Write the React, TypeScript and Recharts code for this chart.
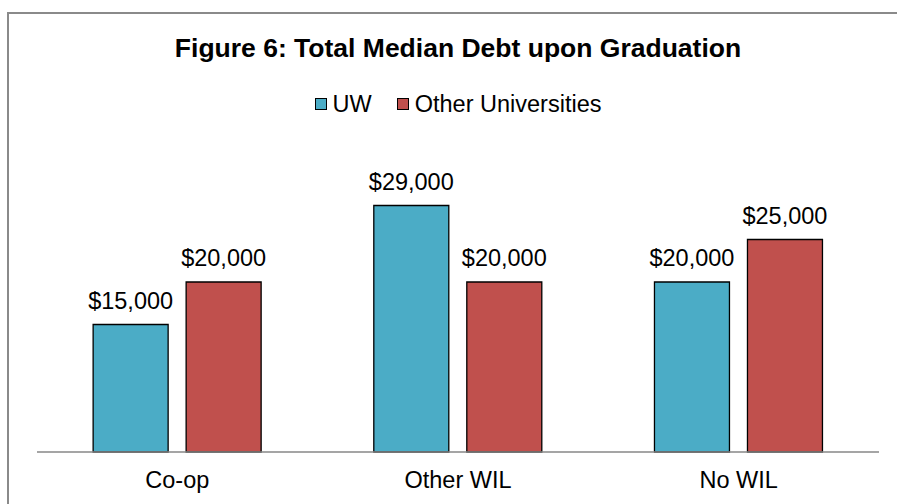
import { BarChart, Bar, XAxis, YAxis, LabelList } from "recharts";

const categories = ["Co-op", "Other WIL", "No WIL"];
const uwDebt = [15000, 29000, 20000];
const otherDebt = [20000, 20000, 25000];
const seriesNames = ["UW", "Other Universities"];
const seriesColors = ["#4BACC6", "#C0504D"];

const data = categories.map((name, i) => ({
  name,
  uw: uwDebt[i],
  other: otherDebt[i],
}));

const FONT = '"Liberation Sans", Arial, sans-serif';

const money = (v: any) => "$" + Number(v).toLocaleString("en-US");

const CategoryTick = ({ x, y, payload }: any) => (
  <text x={x} y={y + 36} textAnchor="middle" fill="#000" fontSize={23.5} fontFamily={FONT}>
    {payload.value}
  </text>
);

// legend drawn outside the chart so it doesn't eat plot height
const LegendBox = () => (
  <div style={{ position: "absolute", top: 89.5, left: 0, width: 916, display: "flex", justifyContent: "center", alignItems: "center", fontFamily: FONT, fontSize: 23.5, lineHeight: "28px", color: "#000" }}>
    {seriesNames.map((n, i) => (
      <div key={n} style={{ display: "flex", alignItems: "center", marginRight: i === 0 ? 25 : 0 }}>
        <span style={{ width: 10, height: 10, background: seriesColors[i], border: "1px solid #000", marginRight: 6, marginTop: 1 }} />
        <span>{n}</span>
      </div>
    ))}
  </div>
);

export default function App() {
  return (
    <div style={{ position: "fixed", left: 0, top: 0, width: 897, height: 504, overflow: "hidden", background: "#fff" }}>
      <div style={{ position: "absolute", left: 7, top: 12, width: 950, height: 600, border: "2px solid #8a8a8a", boxSizing: "border-box" }} />
      <div style={{ position: "absolute", left: 0, top: 33, width: 916, textAlign: "center", fontFamily: FONT, fontWeight: "bold", fontSize: 26.5, lineHeight: "30px", color: "#000" }}>
        Figure 6: Total Median Debt upon Graduation
      </div>
      <LegendBox />
      <div style={{ position: "absolute", left: 0, top: 0 }}>
        <BarChart
          width={897}
          height={504}
          data={data}
          margin={{ top: 154.5, right: 18, bottom: 0, left: 37 }}
          barCategoryGap="20%"
          barGap={18}
        >
          <XAxis
            dataKey="name"
            height={52}
            axisLine={{ stroke: "#878787", strokeWidth: 1.7 }}
            tickLine={false}
            tickSize={0}
            tickMargin={0}
            tick={<CategoryTick />}
          />
          <YAxis hide domain={[0, 35000]} />
          <Bar dataKey="uw" name={seriesNames[0]} fill={seriesColors[0]} stroke="#000" strokeWidth={1.3} isAnimationActive={false}>
            <LabelList dataKey="uw" position="top" offset={16} formatter={money} fill="#000" fontSize={23.5} fontFamily={FONT} />
          </Bar>
          <Bar dataKey="other" name={seriesNames[1]} fill={seriesColors[1]} stroke="#000" strokeWidth={1.3} isAnimationActive={false}>
            <LabelList dataKey="other" position="top" offset={16} formatter={money} fill="#000" fontSize={23.5} fontFamily={FONT} />
          </Bar>
        </BarChart>
      </div>
    </div>
  );
}
